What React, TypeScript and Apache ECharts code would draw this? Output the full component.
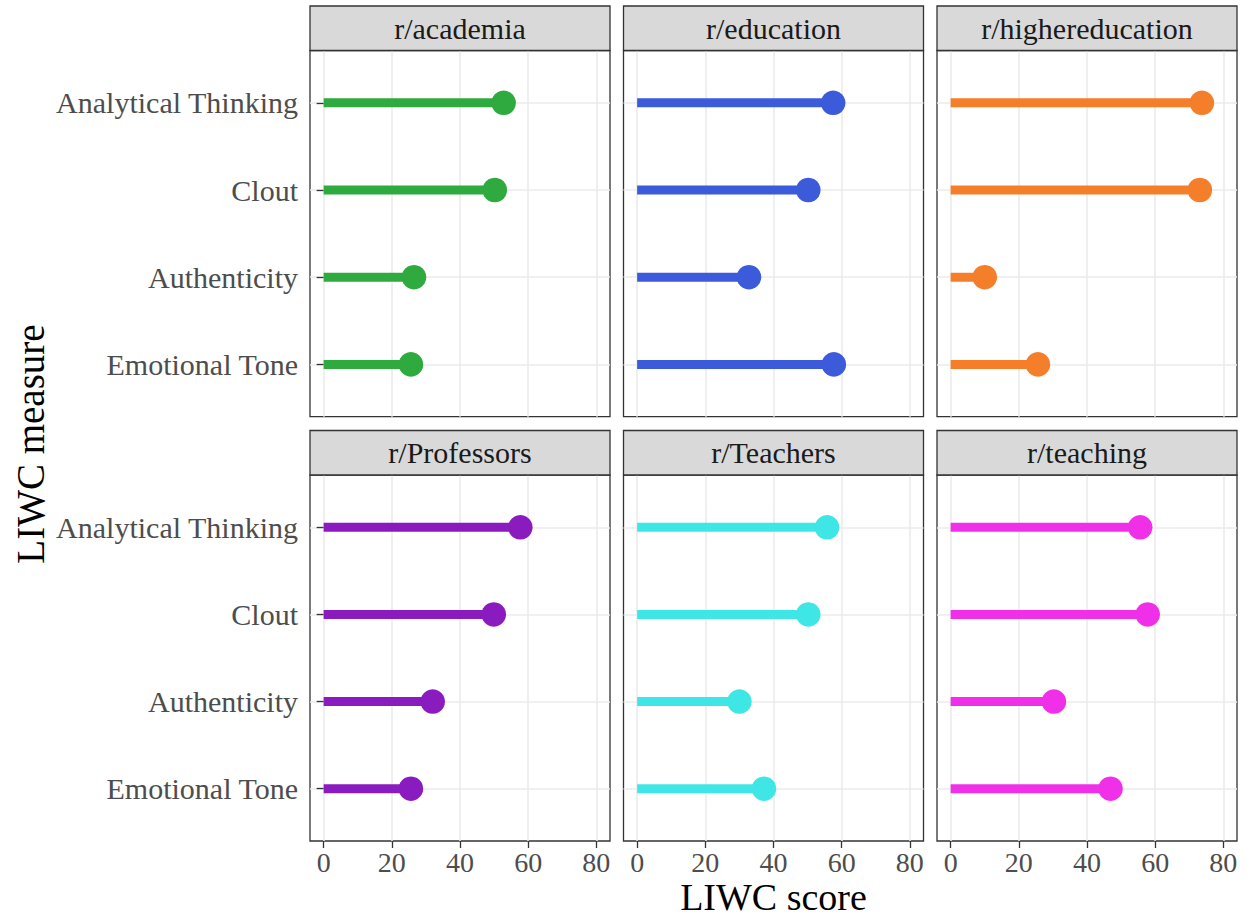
import React, { useEffect, useRef } from "react";
import * as echarts from "echarts";

const categories = ["Analytical Thinking", "Clout", "Authenticity", "Emotional Tone"];
const subreddits = ["r/academia", "r/education", "r/highereducation", "r/Professors", "r/Teachers", "r/teaching"];
const academia = [52.8, 50.2, 26.5, 25.6];
const education = [57.5, 50.2, 32.8, 57.7];
const highereducation = [73.7, 73.1, 10.0, 25.6];
const professors = [57.7, 49.9, 32.0, 25.6];
const teachers = [55.7, 50.2, 30.0, 37.2];
const teaching = [55.6, 57.8, 30.3, 46.9];
const xTicks = [0, 20, 40, 60, 80];
const colors = ["#2EAA3E", "#3B5BDB", "#F47E2A", "#8A1CBF", "#3FE6E6", "#F030E8"];

const seriesValues = [academia, education, highereducation, professors, teachers, teaching];

const FONT = "'Liberation Serif', 'DejaVu Serif', serif";

export default function App() {
  const ref = useRef<HTMLDivElement>(null);

  useEffect(() => {
    if (!ref.current) return;
    const chart = echarts.init(ref.current, undefined, { renderer: "svg" });

    const colLefts = [310, 623.5, 937];
    const panelW = 300;
    const rows = [
      { stripTop: 6, panelTop: 50.5, panelBottom: 416.7 },
      { stripTop: 430.5, panelTop: 475, panelBottom: 841 },
    ];

    const grids: any[] = [];
    const xAxes: any[] = [];
    const yAxes: any[] = [];
    const series: any[] = [];
    const graphics: any[] = [];

    subreddits.forEach((name, i) => {
      const r = Math.floor(i / 3);
      const c = i % 3;
      const row = rows[r];
      const left = colLefts[c];
      grids.push({
        left,
        top: row.panelTop,
        width: panelW,
        height: row.panelBottom - row.panelTop,
        show: true,
        backgroundColor: "#FFFFFF",
        borderColor: "#333333",
        borderWidth: 1.3,
        containLabel: false,
      });
      xAxes.push({
        type: "value",
        gridIndex: i,
        min: -4,
        max: 84,
        axisLine: { show: false },
        axisTick: {
          show: r === 1,
          customValues: xTicks,
          length: 7,
          lineStyle: { color: "#333333", width: 1.3 },
        },
        axisLabel: {
          show: r === 1,
          customValues: xTicks,
          margin: 7,
          fontFamily: FONT,
          fontSize: 28,
          lineHeight: 28,
          color: "#4D4D4D",
        },
        splitLine: { show: true, lineStyle: { color: "#EBEBEB", width: 1.6 } },
      });
      yAxes.push({
        type: "value",
        gridIndex: i,
        min: 0.4,
        max: 4.6,
        inverse: true,
        axisLine: { show: false },
        axisTick: {
          show: c === 0,
          customValues: [1, 2, 3, 4],
          length: 7,
          lineStyle: { color: "#333333", width: 1.3 },
        },
        axisLabel: {
          show: c === 0,
          customValues: [1, 2, 3, 4],
          margin: 12,
          fontFamily: FONT,
          fontSize: 30,
          color: "#4D4D4D",
          formatter: (v: number) => categories[Math.round(v) - 1] ?? "",
        },
        splitLine: { show: true, lineStyle: { color: "#EBEBEB", width: 1.6 } },
      });
      const color = colors[i];
      series.push({
        type: "custom",
        xAxisIndex: i,
        yAxisIndex: i,
        data: seriesValues[i].map((v, k) => [v, k + 1]),
        renderItem: (params: any, api: any) => {
          const p0 = api.coord([0, api.value(1)]);
          const p1 = api.coord([api.value(0), api.value(1)]);
          return {
            type: "group",
            children: [
              {
                type: "line",
                shape: { x1: p0[0], y1: p0[1], x2: p1[0], y2: p1[1] },
                style: { stroke: color, lineWidth: 9, lineCap: "butt" },
              },
              {
                type: "circle",
                shape: { cx: p1[0], cy: p1[1], r: 12.3 },
                style: { fill: color },
              },
            ],
          };
        },
      });
      // strip
      graphics.push({
        type: "rect",
        shape: { x: left, y: row.stripTop, width: panelW, height: row.panelTop - row.stripTop },
        style: { fill: "#D9D9D9", stroke: "#333333", lineWidth: 1.3 },
        z: 10,
      });
      graphics.push({
        type: "text",
        x: left + panelW / 2,
        y: (row.stripTop + row.panelTop) / 2,
        style: {
          text: name,
          fontFamily: FONT,
          fontSize: 30,
          fill: "#1A1A1A",
          textAlign: "center",
          textVerticalAlign: "middle",
        },
        z: 11,
      });
    });

    graphics.push({
      type: "text",
      x: 773.5,
      y: 897,
      style: {
        text: "LIWC score",
        fontFamily: FONT,
        fontSize: 38,
        lineHeight: 28,
        fill: "#000000",
        textAlign: "center",
        textVerticalAlign: "middle",
      },
    });
    graphics.push({
      type: "text",
      x: 30,
      y: 444,
      rotation: Math.PI / 2,
      style: {
        text: "LIWC measure",
        fontFamily: FONT,
        fontSize: 39,
        fill: "#000000",
        textAlign: "center",
        textVerticalAlign: "middle",
      },
    });

    chart.setOption({
      animation: false,
      backgroundColor: "#FFFFFF",
      grid: grids,
      xAxis: xAxes,
      yAxis: yAxes,
      series,
      graphic: graphics,
    });

    return () => chart.dispose();
  }, []);

  return (
    <div
      ref={ref}
      style={{ position: "fixed", left: 0, top: 0, width: 1247, height: 917 }}
    />
  );
}
